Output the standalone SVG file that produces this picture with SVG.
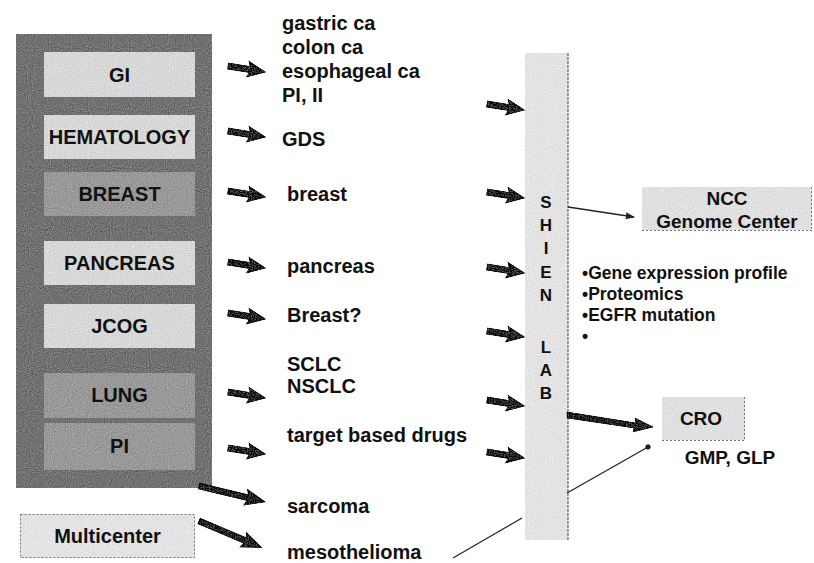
<svg xmlns="http://www.w3.org/2000/svg" xmlns:xlink="http://www.w3.org/1999/xlink" width="814" height="563" viewBox="0 0 814 563">
<style>
text{font-family:"Liberation Sans",Arial,sans-serif;font-weight:bold;fill:#111}
.lbl{font-size:20px;text-anchor:middle}
.t{font-size:20px}
.b{font-size:17.5px}
.s{font-size:19px;text-anchor:middle}
.v{font-size:17px;text-anchor:middle}
.light{fill:#e2e2e2}
.mid{fill:#a8a8a8}
.arr{fill:#555;stroke:#2a2a2a;stroke-width:1}
.thin{stroke:#222;stroke-width:1.3;fill:none}
.dash{fill:none;stroke:#777;stroke-width:1;stroke-dasharray:2 2}
</style>
<defs>
<filter id="grain" x="0" y="0" width="100%" height="100%">
<feTurbulence type="fractalNoise" baseFrequency="0.95" numOctaves="1" seed="3" result="n"/>
<feColorMatrix in="n" type="saturate" values="0" result="g"/>
<feComponentTransfer in="g" result="c">
<feFuncR type="linear" slope="3" intercept="-1"/>
<feFuncG type="linear" slope="3" intercept="-1"/>
<feFuncB type="linear" slope="3" intercept="-1"/>
</feComponentTransfer>
<feComposite in="c" in2="SourceGraphic" operator="arithmetic" k1="0" k2="0.3" k3="1" k4="-0.15" result="m"/>
<feComposite in="m" in2="SourceAlpha" operator="in"/>
</filter>
<path id="arr" d="M0,-3 L22,-3 L20,-8 L38,0 L20,8 L22,3 L0,3 Z"/>
<path id="arrL" d="M0,-3 L50,-3 L48,-8 L68,0 L48,8 L50,3 L0,3 Z"/>
<marker id="ah" viewBox="0 0 10 10" refX="9" refY="5" markerWidth="7" markerHeight="7" orient="auto">
<path d="M0,1 L10,5 L0,9 Z" fill="#222"/>
</marker>
<marker id="dot" viewBox="0 0 10 10" refX="5" refY="5" markerWidth="5" markerHeight="5" orient="auto">
<circle cx="5" cy="5" r="4" fill="#222"/>
</marker>
</defs>
<rect width="814" height="563" fill="#fff"/>

<g id="container">
<rect x="16" y="34" width="196" height="454" fill="#858585" filter="url(#grain)"/>
</g>
<g id="gi"><rect class="light" x="44" y="52" width="151" height="45" filter="url(#grain)"/><text class="lbl" x="119.5" y="82">GI</text></g>
<g id="hematology"><rect class="light" x="44" y="115" width="151" height="44" filter="url(#grain)"/><text class="lbl" x="119.5" y="144">HEMATOLOGY</text></g>
<g id="breast"><rect class="mid" x="44" y="172" width="151" height="44" filter="url(#grain)"/><text class="lbl" x="119.5" y="201">BREAST</text></g>
<g id="pancreas"><rect class="light" x="44" y="241" width="151" height="44" filter="url(#grain)"/><text class="lbl" x="119.5" y="270">PANCREAS</text></g>
<g id="jcog"><rect class="light" x="44" y="304" width="151" height="44" filter="url(#grain)"/><text class="lbl" x="119.5" y="333">JCOG</text></g>
<g id="lung"><rect class="mid" x="44" y="373" width="151" height="45" filter="url(#grain)"/><text class="lbl" x="119.5" y="402">LUNG</text></g>
<g id="pi"><rect class="mid" x="44" y="423" width="151" height="47" filter="url(#grain)"/><text class="lbl" x="119.5" y="453">PI</text></g>
<g id="multicenter"><rect x="20" y="514" width="175" height="44" fill="#ebebeb" filter="url(#grain)"/><rect class="dash" x="20.5" y="514.5" width="174" height="43"/><text class="lbl" x="107.5" y="543">Multicenter</text></g>

<g id="shien-lab">
<rect x="525" y="53" width="43" height="487" fill="#ebebeb" filter="url(#grain)"/>
<line x1="568" y1="53" x2="568" y2="540" stroke="#444" stroke-width="1" stroke-dasharray="3 1"/>
<text class="v" x="546" y="208">S</text>
<text class="v" x="546" y="231">H</text>
<text class="v" x="546" y="254">I</text>
<text class="v" x="546" y="278">E</text>
<text class="v" x="546" y="301">N</text>
<text class="v" x="546" y="353">L</text>
<text class="v" x="546" y="376">A</text>
<text class="v" x="546" y="399">B</text>
</g>

<g id="ncc">
<rect x="642" y="187" width="170" height="43" fill="#e8e8e8" filter="url(#grain)"/>
<path class="dash" d="M642,230.5 H812 M811.5,187 V230"/>
<text class="s" x="727" y="205">NCC</text>
<text class="s" x="727" y="228">Genome Center</text>
</g>

<g id="cro">
<rect x="662" y="397" width="83" height="43" fill="#e8e8e8" filter="url(#grain)"/>
<path class="dash" d="M662,440.5 H745 M744.5,397 V440"/>
<text class="s" x="701" y="425">CRO</text>
</g>

<g id="texts">
<text class="t" x="282" y="30">gastric ca</text>
<text class="t" x="282" y="54">colon ca</text>
<text class="t" x="282" y="78">esophageal ca</text>
<text class="t" x="282" y="102">PI, II</text>
<text class="t" x="282" y="146">GDS</text>
<text class="t" x="287" y="201">breast</text>
<text class="t" x="287" y="273">pancreas</text>
<text class="t" x="287" y="322">Breast?</text>
<text class="t" x="287" y="371">SCLC</text>
<text class="t" x="287" y="393">NSCLC</text>
<text class="t" x="287" y="442">target based drugs</text>
<text class="t" x="287" y="513">sarcoma</text>
<text class="t" x="287" y="559">mesothelioma</text>
<text class="b" x="582" y="279">•Gene expression profile</text>
<text class="b" x="582" y="300">•Proteomics</text>
<text class="b" x="582" y="321">•EGFR mutation</text>
<text class="b" x="582" y="342">•</text>
<text class="s" x="730" y="464">GMP, GLP</text>
</g>

<g id="connectors">
<g class="arr" filter="url(#grain)">
<use xlink:href="#arr" transform="translate(228,66) rotate(9)"/>
<use xlink:href="#arr" transform="translate(228,131) rotate(9)"/>
<use xlink:href="#arr" transform="translate(228,191) rotate(9)"/>
<use xlink:href="#arr" transform="translate(228,262) rotate(9)"/>
<use xlink:href="#arr" transform="translate(228,313) rotate(9)"/>
<use xlink:href="#arr" transform="translate(228,392) rotate(9)"/>
<use xlink:href="#arr" transform="translate(228,448) rotate(9)"/>
<use xlink:href="#arr" transform="translate(487,104) rotate(9)"/>
<use xlink:href="#arr" transform="translate(487,192) rotate(9)"/>
<use xlink:href="#arr" transform="translate(487,267) rotate(9)"/>
<use xlink:href="#arr" transform="translate(487,331) rotate(9)"/>
<use xlink:href="#arr" transform="translate(487,400) rotate(9)"/>
<use xlink:href="#arr" transform="translate(487,452) rotate(9)"/>
<use xlink:href="#arrL" transform="translate(199,486) rotate(13.5)"/>
<use xlink:href="#arrL" transform="translate(199,521) rotate(23)"/>
<path d="M567,412 L636,423 L635,418 L653,427 L633,432 L634,428 L567,418 Z"/>
</g>
<line class="thin" x1="568" y1="207" x2="634" y2="217" marker-end="url(#ah)"/>
<line class="thin" x1="567" y1="493" x2="648" y2="447" marker-end="url(#dot)"/>
<line class="thin" x1="453" y1="558" x2="522" y2="518"/>
</g>
</svg>
